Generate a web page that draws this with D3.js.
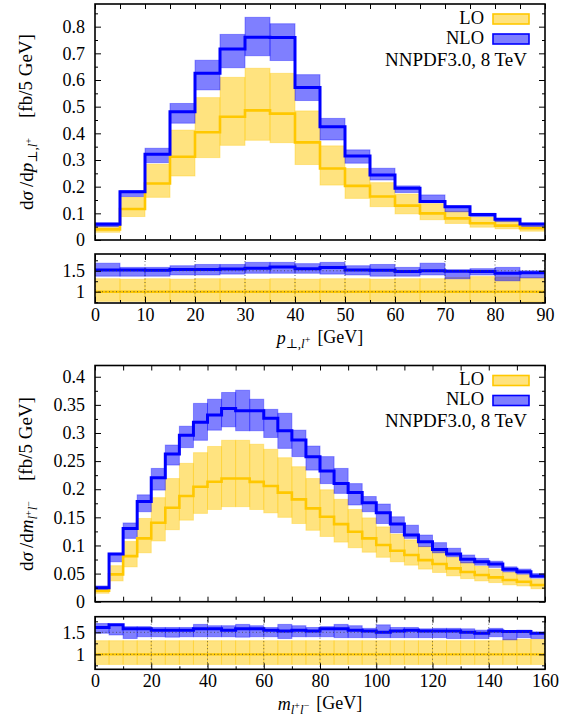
<!DOCTYPE html>
<html>
<head>
<meta charset="utf-8">
<script src="https://cdn.jsdelivr.net/npm/d3@7"></script>
<style>
  body { margin: 0; background: #fff; }
  text { font-family: "Liberation Serif", "DejaVu Serif", serif; }
</style>
<title>LO / NLO distributions</title>
</head>
<body>
<script>
// ---- p_T(l+) distribution, 5 GeV bins ----
var ptEdges = [0, 5, 10, 15, 20, 25, 30, 35, 40, 45, 50, 55, 60, 65, 70, 75, 80, 85];
var ptLo      = [0.040, 0.116, 0.212, 0.312, 0.404, 0.462, 0.486, 0.474, 0.366, 0.268, 0.203, 0.163, 0.129, 0.100, 0.081, 0.063, 0.054, 0.044];
var ptLoHigh  = [0.051, 0.160, 0.284, 0.412, 0.534, 0.610, 0.644, 0.625, 0.484, 0.353, 0.268, 0.215, 0.172, 0.136, 0.108, 0.085, 0.072, 0.057];
var ptLoLow   = [0.029, 0.088, 0.160, 0.240, 0.309, 0.355, 0.374, 0.365, 0.283, 0.206, 0.156, 0.125, 0.098, 0.076, 0.062, 0.048, 0.042, 0.033];
var ptNlo     = [0.059, 0.181, 0.322, 0.481, 0.625, 0.716, 0.760, 0.759, 0.572, 0.425, 0.315, 0.244, 0.194, 0.144, 0.125, 0.096, 0.078, 0.060];
var ptNloHigh = [0.065, 0.185, 0.344, 0.512, 0.674, 0.771, 0.835, 0.811, 0.620, 0.456, 0.338, 0.269, 0.203, 0.169, 0.128, 0.100, 0.081, 0.063];
var ptNloLow  = [0.050, 0.163, 0.290, 0.438, 0.563, 0.646, 0.691, 0.673, 0.523, 0.375, 0.288, 0.225, 0.178, 0.140, 0.106, 0.088, 0.069, 0.050];
// ratio to LO central
var ptRatioLoHigh  = [1.31, 1.30, 1.31, 1.30, 1.31, 1.31, 1.30, 1.31, 1.30, 1.31, 1.31, 1.30, 1.31, 1.31, 1.34, 1.36, 1.35, 1.33];
var ptRatioLoLow   = [0.77, 0.77, 0.77, 0.77, 0.77, 0.77, 0.77, 0.77, 0.77, 0.77, 0.77, 0.77, 0.77, 0.77, 0.77, 0.77, 0.77, 0.75];
var ptRatioNlo     = [1.52, 1.52, 1.51, 1.53, 1.53, 1.54, 1.56, 1.59, 1.55, 1.58, 1.52, 1.51, 1.48, 1.50, 1.49, 1.48, 1.44, 1.45];
var ptRatioNloHigh = [1.68, 1.58, 1.58, 1.62, 1.65, 1.65, 1.70, 1.70, 1.67, 1.70, 1.62, 1.65, 1.58, 1.68, 1.52, 1.55, 1.58, 1.50];
var ptRatioNloLow  = [1.37, 1.37, 1.37, 1.40, 1.40, 1.42, 1.44, 1.44, 1.44, 1.42, 1.40, 1.37, 1.37, 1.40, 1.31, 1.40, 1.26, 1.33];

// ---- m(l+l-) distribution, 5 GeV bins ----
var mEdges = [0, 5, 10, 15, 20, 25, 30, 35, 40, 45, 50, 55, 60, 65, 70, 75, 80, 85, 90, 95, 100, 105, 110, 115, 120, 125, 130, 135, 140, 145, 150, 155];
var mLo      = [0.0196, 0.0486, 0.081, 0.1126, 0.1404, 0.167, 0.188, 0.2044, 0.2133, 0.219, 0.219, 0.213, 0.2056, 0.194, 0.182, 0.166, 0.151, 0.138, 0.1244, 0.1126, 0.1007, 0.0907, 0.083, 0.074, 0.067, 0.0593, 0.0527, 0.0474, 0.0433, 0.0385, 0.0356, 0.0296];
var mLoHigh  = [0.0255, 0.064, 0.107, 0.148, 0.185, 0.219, 0.246, 0.265, 0.276, 0.287, 0.287, 0.280, 0.271, 0.256, 0.240, 0.219, 0.199, 0.182, 0.164, 0.149, 0.133, 0.120, 0.110, 0.098, 0.089, 0.079, 0.070, 0.063, 0.058, 0.052, 0.048, 0.040];
var mLoLow   = [0.015, 0.037, 0.062, 0.087, 0.108, 0.128, 0.145, 0.157, 0.164, 0.169, 0.169, 0.164, 0.158, 0.150, 0.139, 0.127, 0.116, 0.106, 0.096, 0.088, 0.079, 0.071, 0.065, 0.058, 0.052, 0.046, 0.041, 0.037, 0.034, 0.030, 0.028, 0.023];
var mNlo     = [0.0249, 0.0847, 0.130, 0.178, 0.2204, 0.2625, 0.296, 0.319, 0.332, 0.3437, 0.3396, 0.3396, 0.326, 0.304, 0.2874, 0.2578, 0.2323, 0.210, 0.194, 0.176, 0.158, 0.138, 0.1185, 0.1067, 0.093, 0.0847, 0.0753, 0.0711, 0.067, 0.0575, 0.0533, 0.0456];
var mNloHigh = [0.028, 0.086, 0.140, 0.190, 0.237, 0.2785, 0.312, 0.3526, 0.360, 0.372, 0.376, 0.360, 0.342, 0.335, 0.305, 0.2767, 0.258, 0.237, 0.210, 0.187, 0.1736, 0.151, 0.136, 0.1185, 0.105, 0.095, 0.083, 0.077, 0.072, 0.062, 0.058, 0.050];
var mNloLow  = [0.021, 0.071, 0.1126, 0.160, 0.1985, 0.243, 0.274, 0.287, 0.305, 0.311, 0.304, 0.304, 0.292, 0.2726, 0.258, 0.234, 0.210, 0.1926, 0.172, 0.160, 0.139, 0.1227, 0.1126, 0.098, 0.087, 0.080, 0.069, 0.065, 0.061, 0.053, 0.049, 0.042];
var mRatioLoHigh  = [1.31, 1.31, 1.31, 1.31, 1.31, 1.31, 1.31, 1.31, 1.31, 1.31, 1.31, 1.31, 1.31, 1.31, 1.31, 1.31, 1.31, 1.31, 1.31, 1.31, 1.31, 1.31, 1.31, 1.31, 1.31, 1.31, 1.31, 1.31, 1.31, 1.34, 1.34, 1.34];
var mRatioLoLow   = [0.77, 0.77, 0.77, 0.77, 0.77, 0.77, 0.77, 0.77, 0.77, 0.77, 0.77, 0.77, 0.77, 0.77, 0.77, 0.77, 0.77, 0.77, 0.77, 0.77, 0.77, 0.77, 0.77, 0.77, 0.77, 0.77, 0.77, 0.77, 0.77, 0.77, 0.77, 0.77];
var mRatioNlo     = [1.61, 1.67, 1.58, 1.58, 1.55, 1.55, 1.55, 1.58, 1.58, 1.55, 1.58, 1.58, 1.55, 1.53, 1.55, 1.53, 1.58, 1.58, 1.55, 1.53, 1.50, 1.53, 1.55, 1.53, 1.53, 1.53, 1.50, 1.48, 1.53, 1.52, 1.52, 1.48];
var mRatioNloHigh = [1.70, 1.68, 1.63, 1.63, 1.61, 1.61, 1.61, 1.68, 1.65, 1.65, 1.68, 1.65, 1.61, 1.68, 1.65, 1.61, 1.63, 1.68, 1.65, 1.59, 1.67, 1.61, 1.61, 1.58, 1.59, 1.59, 1.58, 1.55, 1.59, 1.53, 1.55, 1.50];
var mRatioNloLow  = [1.48, 1.44, 1.36, 1.40, 1.40, 1.39, 1.40, 1.40, 1.40, 1.40, 1.39, 1.40, 1.40, 1.36, 1.40, 1.40, 1.40, 1.38, 1.38, 1.38, 1.38, 1.38, 1.38, 1.38, 1.38, 1.36, 1.36, 1.36, 1.40, 1.33, 1.38, 1.36];

// ---- ticks and labels ----
var ptYTicks = [0, 0.1, 0.2, 0.3, 0.4, 0.5, 0.6, 0.7, 0.8];
var ptYMinor = [0.05, 0.15, 0.25, 0.35, 0.45, 0.55, 0.65, 0.75, 0.85];
var ptXTicks = [0, 10, 20, 30, 40, 50, 60, 70, 80, 90];
var ptXMinor = [5, 15, 25, 35, 45, 55, 65, 75, 85];
var mYTicks = [0, 0.05, 0.1, 0.15, 0.2, 0.25, 0.3, 0.35, 0.4];
var mYMinor = [0.025, 0.075, 0.125, 0.175, 0.225, 0.275, 0.325, 0.375];
var mXTicks = [0, 20, 40, 60, 80, 100, 120, 140, 160];
var mXMinor = [10, 30, 50, 70, 90, 110, 130, 150];
var ratioTicks = [1, 1.5];
var ratioMinor = [0.75, 1.25, 1.75];
var legendLabels = ["LO", "NLO"];
var infoLabel = "NNPDF3.0, 8 TeV";

var W = 575, H = 717, L = 95, R = 545, binW = 5;
var loColor = "#ffc800", nloColor = "#0000ff";

var svg = d3.select("body").append("svg")
	.attr("width", W)
	.attr("height", H);

function bands(g, x, y, edges, low, high, color) {
	g.selectAll(null)
		.data(edges)
		.enter()
		.append("rect")
		.attr("x", function(d) { return x(d); })
		.attr("width", function(d) { return x(d + binW) - x(d); })
		.attr("y", function(d, i) { return y(high[i]); })
		.attr("height", function(d, i) { return y(low[i]) - y(high[i]); })
		.attr("fill", color)
		.attr("fill-opacity", 0.5)
		.attr("stroke", color)
		.attr("stroke-opacity", 0.35)
		.attr("stroke-width", 1);
}

function steps(g, x, y, edges, vals, color, lw) {
	var pts = edges.map(function(e, i) { return [e, vals[i]]; });
	pts.push([edges[edges.length - 1] + binW, vals[vals.length - 1]]);
	var line = d3.line()
		.x(function(d) { return x(d[0]); })
		.y(function(d) { return y(d[1]); })
		.curve(d3.curveStepAfter);
	g.append("path")
		.datum(pts)
		.attr("d", line)
		.attr("fill", "none")
		.attr("stroke", color)
		.attr("stroke-width", lw);
}

function ticks(g, axis, tr, keepText) {
	var a = g.append("g").attr("transform", tr).call(axis);
	a.select(".domain").remove();
	a.attr("font-family", "'Liberation Serif', 'DejaVu Serif', serif").attr("font-size", 18);
	a.selectAll("line").attr("stroke", "#000");
	a.selectAll("text").attr("fill", "#000");
	if (!keepText) a.selectAll("text").remove();
}

var clipCount = 0;
function clipped(g, top, bottom) {
	var id = "clip" + (clipCount++);
	svg.append("clipPath").attr("id", id)
		.append("rect").attr("x", L).attr("y", top).attr("width", R - L).attr("height", bottom - top);
	return g.append("g").attr("clip-path", "url(#" + id + ")");
}

function frame(g, top, bottom) {
	g.append("rect")
		.attr("x", L).attr("y", top)
		.attr("width", R - L).attr("height", bottom - top)
		.attr("fill", "none").attr("stroke", "#000").attr("stroke-width", 1.6);
}

function fmt(d) { return d === 0 ? "0" : String(+d.toFixed(2)); }

function mainPanel(c) {
	var x = d3.scaleLinear().domain(c.xDomain).range([L, R]);
	var y = d3.scaleLinear().domain(c.yDomain).range([c.bottom, c.top]);
	var g = svg.append("g");
	var p = clipped(g, c.top, c.bottom);
	bands(p, x, y, c.edges, c.loLow, c.loHigh, loColor);
	bands(p, x, y, c.edges, c.nloLow, c.nloHigh, nloColor);
	steps(p, x, y, c.edges, c.lo, loColor, 2.6);
	steps(p, x, y, c.edges, c.nlo, nloColor, 3);

	ticks(g, d3.axisLeft(y).tickValues(c.yTicks).tickSize(-6).tickPadding(10).tickFormat(fmt), "translate(" + L + ",0)", true);
	ticks(g, d3.axisLeft(y).tickValues(c.yMinor).tickSize(-3), "translate(" + L + ",0)", false);
	ticks(g, d3.axisRight(y).tickValues(c.yTicks).tickSize(-6), "translate(" + R + ",0)", false);
	ticks(g, d3.axisRight(y).tickValues(c.yMinor).tickSize(-3), "translate(" + R + ",0)", false);
	ticks(g, d3.axisBottom(x).tickValues(c.xTicks).tickSize(-5), "translate(0," + c.bottom + ")", false);
	ticks(g, d3.axisTop(x).tickValues(c.xTicks).tickSize(-5), "translate(0," + c.top + ")", false);
	frame(g, c.top, c.bottom);

	// legend
	var colors = [loColor, nloColor];
	legendLabels.forEach(function(lab, i) {
		var by = c.top + 19.5 + i * 20;
		g.append("text").attr("x", 484).attr("y", by)
			.attr("text-anchor", "end").attr("font-size", 18.5).text(lab);
		g.append("rect").attr("x", 493).attr("y", by - 9.5).attr("width", 36).attr("height", 10)
			.attr("fill", colors[i]).attr("fill-opacity", 0.5)
			.attr("stroke", colors[i]).attr("stroke-width", 1.6);
	});
	g.append("text").attr("x", 527).attr("y", c.top + 61.5)
		.attr("text-anchor", "end").attr("font-size", 19).text(infoLabel);

	// y label
	var t = g.append("text")
		.attr("transform", "rotate(-90)")
		.attr("x", -c.yLabelCenter).attr("y", 33)
		.attr("text-anchor", "middle").attr("font-size", 19);
	t.append("tspan").text("d");
	t.append("tspan").attr("font-style", "italic").text("σ");
	t.append("tspan").attr("dx", 4).text("/d");
	c.yLabelVar(t);
	t.append("tspan").attr("dx", 20).text("[fb/5 GeV]");
}

function ratioPanel(c) {
	var x = d3.scaleLinear().domain(c.xDomain).range([L, R]);
	var y = d3.scaleLinear().domain(c.yDomain).range([c.bottom, c.top]);
	var g = svg.append("g");
	var p = clipped(g, c.top, c.bottom);
	var ones = c.lo.map(function(v) { return v / v; });
	bands(p, x, y, c.edges, c.loLow, c.loHigh, loColor);
	steps(p, x, y, c.edges, ones, loColor, 2.4);
	bands(p, x, y, c.edges, c.nloLow, c.nloHigh, nloColor);
	steps(p, x, y, c.edges, c.nlo, nloColor, 3);

	// dotted grid in front
	p.selectAll(null).data(c.xTicks).enter().append("line")
		.attr("x1", function(d) { return x(d); }).attr("x2", function(d) { return x(d); })
		.attr("y1", c.top).attr("y2", c.bottom)
		.attr("stroke", "#444").attr("stroke-width", 0.8).attr("stroke-dasharray", "1,2.5");
	p.selectAll(null).data(ratioTicks).enter().append("line")
		.attr("x1", L).attr("x2", R)
		.attr("y1", function(d) { return y(d); }).attr("y2", function(d) { return y(d); })
		.attr("stroke", "#444").attr("stroke-width", 0.8).attr("stroke-dasharray", "1,2.5");

	ticks(g, d3.axisLeft(y).tickValues(ratioTicks).tickSize(-6).tickPadding(10).tickFormat(fmt), "translate(" + L + ",0)", true);
	ticks(g, d3.axisLeft(y).tickValues(ratioMinor).tickSize(-3), "translate(" + L + ",0)", false);
	ticks(g, d3.axisRight(y).tickValues(ratioTicks).tickSize(-6), "translate(" + R + ",0)", false);
	ticks(g, d3.axisRight(y).tickValues(ratioMinor).tickSize(-3), "translate(" + R + ",0)", false);
	ticks(g, d3.axisBottom(x).tickValues(c.xTicks).tickSize(-6).tickPadding(5).tickFormat(d3.format("d")), "translate(0," + c.bottom + ")", true);
	ticks(g, d3.axisBottom(x).tickValues(c.xMinor).tickSize(-3), "translate(0," + c.bottom + ")", false);
	ticks(g, d3.axisTop(x).tickValues(c.xTicks).tickSize(-6), "translate(0," + c.top + ")", false);
	ticks(g, d3.axisTop(x).tickValues(c.xMinor).tickSize(-3), "translate(0," + c.top + ")", false);
	frame(g, c.top, c.bottom);

	var t = g.append("text")
		.attr("x", (L + R) / 2).attr("y", c.bottom + 40.5)
		.attr("text-anchor", "middle").attr("font-size", 18);
	c.xLabelVar(t);
	t.append("tspan").attr("dx", 7).text("[GeV]");
}

// p_T label pieces: p_{⊥,l+}
function ptVar(t) {
	t.append("tspan").attr("font-style", "italic").text("p");
	t.append("tspan").attr("font-size", 13).attr("dy", 4).text("⊥,");
	t.append("tspan").attr("font-size", 13).attr("font-style", "italic").text("l");
	t.append("tspan").attr("font-size", 10).attr("dy", -5).text("+");
	t.append("tspan").attr("font-size", 18).attr("dy", 1).text("");
}
// m label pieces: m_{l+l-}
function mVar(t) {
	t.append("tspan").attr("font-style", "italic").text("m");
	t.append("tspan").attr("font-size", 13).attr("font-style", "italic").attr("dy", 4).text("l");
	t.append("tspan").attr("font-size", 10).attr("dy", -5).text("+");
	t.append("tspan").attr("font-size", 13).attr("font-style", "italic").attr("dy", 5).text("l");
	t.append("tspan").attr("font-size", 10).attr("dy", -5).text("−");
	t.append("tspan").attr("font-size", 18).attr("dy", 1).text("");
}

mainPanel({
	edges: ptEdges, xDomain: [0, 90], yDomain: [0, 0.885], top: 4, bottom: 240,
	lo: ptLo, loLow: ptLoLow, loHigh: ptLoHigh, nlo: ptNlo, nloLow: ptNloLow, nloHigh: ptNloHigh,
	yTicks: ptYTicks, yMinor: ptYMinor, xTicks: d3.merge([ptXTicks, ptXMinor]),
	yLabelCenter: 122, yLabelVar: ptVar
});
ratioPanel({
	edges: ptEdges, xDomain: [0, 90], yDomain: [0.73, 1.9], top: 254, bottom: 303,
	lo: ptLo, loLow: ptRatioLoLow, loHigh: ptRatioLoHigh,
	nlo: ptRatioNlo, nloLow: ptRatioNloLow, nloHigh: ptRatioNloHigh,
	xTicks: ptXTicks, xMinor: ptXMinor, xLabelVar: ptVar
});
mainPanel({
	edges: mEdges, xDomain: [0, 160], yDomain: [0, 0.42], top: 365.5, bottom: 601.7,
	lo: mLo, loLow: mLoLow, loHigh: mLoHigh, nlo: mNlo, nloLow: mNloLow, nloHigh: mNloHigh,
	yTicks: mYTicks, yMinor: mYMinor, xTicks: d3.merge([mXTicks, mXMinor]),
	yLabelCenter: 484, yLabelVar: mVar
});
ratioPanel({
	edges: mEdges, xDomain: [0, 160], yDomain: [0.66, 1.855], top: 616.7, bottom: 669.3,
	lo: mLo, loLow: mRatioLoLow, loHigh: mRatioLoHigh,
	nlo: mRatioNlo, nloLow: mRatioNloLow, nloHigh: mRatioNloHigh,
	xTicks: mXTicks, xMinor: mXMinor, xLabelVar: mVar
});
</script>
</body>
</html>
